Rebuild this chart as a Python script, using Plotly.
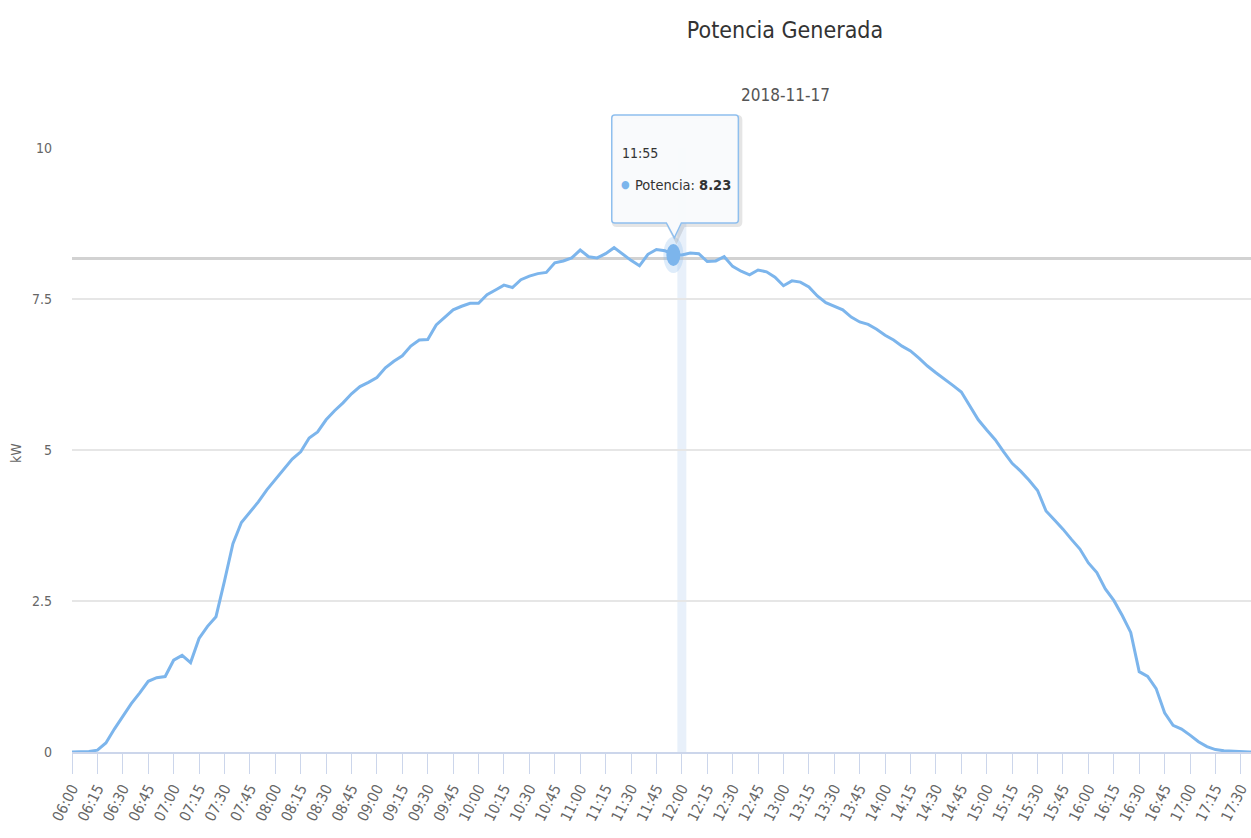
import pandas as pd
import plotly.graph_objects as go

# Generated power (kW), one reading every 5 minutes starting at 06:00
potencia = [
    0.00, 0.00, 0.01, 0.03, 0.15, 0.38, 0.60, 0.80, 0.98, 1.17, 1.23, 1.25,   # 06:00-06:55
    1.52, 1.60, 1.48, 1.88, 2.08, 2.24, 2.83, 3.45, 3.80, 3.97, 4.14, 4.34,   # 07:00-07:55
    4.51, 4.68, 4.85, 4.97, 5.20, 5.30, 5.50, 5.65, 5.78, 5.93, 6.05, 6.12,   # 08:00-08:55
    6.20, 6.36, 6.47, 6.56, 6.72, 6.82, 6.83, 7.07, 7.20, 7.32, 7.38, 7.43,   # 09:00-09:55
    7.43, 7.57, 7.65, 7.73, 7.69, 7.82, 7.88, 7.92, 7.94, 8.10, 8.13, 8.18,   # 10:00-10:55
    8.31, 8.20, 8.18, 8.25, 8.35, 8.24, 8.14, 8.05, 8.24, 8.32, 8.30, 8.23,   # 11:00-11:55
    8.23, 8.26, 8.25, 8.12, 8.13, 8.20, 8.04, 7.96, 7.90, 7.98, 7.95, 7.86,   # 12:00-12:55
    7.72, 7.80, 7.78, 7.70, 7.55, 7.44, 7.38, 7.32, 7.20, 7.12, 7.08, 7.00,   # 13:00-13:55
    6.90, 6.82, 6.72, 6.64, 6.52, 6.39, 6.28, 6.18, 6.07, 5.96, 5.72, 5.50,   # 14:00-14:55
    5.33, 5.17, 4.97, 4.78, 4.65, 4.50, 4.33, 3.99, 3.84, 3.69, 3.52, 3.36,   # 15:00-15:55
    3.13, 2.97, 2.70, 2.51, 2.26, 1.98, 1.33, 1.25, 1.05, 0.65, 0.44, 0.38,   # 16:00-16:55
    0.28, 0.17, 0.09, 0.04, 0.02, 0.01, 0.00, 0.00, 0.00,                     # 17:00-17:40
]
fecha = "2018-11-17"
horas = pd.date_range(f"{fecha} 06:00", periods=len(potencia), freq="5min")

tick_labels = [
    "06:00", "06:15", "06:30", "06:45", "07:00", "07:15", "07:30", "07:45",
    "08:00", "08:15", "08:30", "08:45", "09:00", "09:15", "09:30", "09:45",
    "10:00", "10:15", "10:30", "10:45", "11:00", "11:15", "11:30", "11:45",
    "12:00", "12:15", "12:30", "12:45", "13:00", "13:15", "13:30", "13:45",
    "14:00", "14:15", "14:30", "14:45", "15:00", "15:15", "15:30", "15:45",
    "16:00", "16:15", "16:30", "16:45", "17:00", "17:15", "17:30",
]
tick_times = [pd.Timestamp(f"{fecha} {t}") for t in tick_labels]

y_ticks = [0, 2.5, 5, 7.5, 10]
y_labels = ["0", "2.5", "5", "7.5", "10"]
y_max = 10

hover_label = "11:55"
hover_time = pd.Timestamp(f"{fecha} {hover_label}")
hover_value = potencia[list(horas).index(hover_time)]
crosshair_y = 8.17

FONT = "Liberation Sans Narrow, DejaVu Sans Condensed, Arial Narrow, Liberation Sans, sans-serif"
LINE = "#7cb5ec"

fig = go.Figure()
fig.add_trace(go.Scatter(
    x=horas, y=potencia, mode="lines", name="Potencia",
    line=dict(color=LINE, width=3), hoverinfo="skip", showlegend=False,
))

shapes = [
    # vertical crosshair band
    dict(type="rect", xref="x", yref="paper", xsizemode="pixel", xanchor=hover_time,
         x0=4, x1=13, y0=0, y1=1, fillcolor="rgba(204,222,245,0.45)",
         line=dict(width=0), layer="below"),
    # horizontal crosshair
    dict(type="line", xref="paper", yref="y", x0=0, x1=1, y0=crosshair_y, y1=crosshair_y,
         line=dict(color="#d2d2d2", width=3), layer="below"),
    # hover halo and marker
    dict(type="circle", xref="x", yref="y", xsizemode="pixel", ysizemode="pixel",
         xanchor=hover_time, yanchor=hover_value, x0=-10, x1=10, y0=-18, y1=18,
         fillcolor="rgba(124,181,236,0.25)", line=dict(width=0), layer="above"),
    dict(type="circle", xref="x", yref="y", xsizemode="pixel", ysizemode="pixel",
         xanchor=hover_time, yanchor=hover_value, x0=-7, x1=7, y0=-11, y1=11,
         fillcolor=LINE, line=dict(width=0), layer="above"),
]

# tooltip callout, in pixels around the hovered point (may rise above the plot area)
callout = ("M -58.6,140 L 62,140 Q 65,140 65,137 L 65,35 Q 65,32 62,32 "
           "L 8,32 L 1,17 L -7,32 L -58.6,32 Q -61.6,32 -61.6,35 "
           "L -61.6,137 Q -61.6,140 -58.6,140 Z")
shadow = ("M -56.6,138 L 64,138 Q 67,138 67,135 L 67,33 Q 67,30 64,30 "
          "L 10,30 L 3,15 L -5,30 L -56.6,30 Q -59.6,30 -59.6,33 "
          "L -59.6,135 Q -59.6,138 -56.6,138 Z")
for path, fill, stroke, w in [
    (shadow, "rgba(0,0,0,0)", "rgba(0,0,0,0.10)", 4),
    (callout, "rgba(249,250,252,0.96)", "#8fbfee", 1.5),
]:
    shapes.append(dict(type="path", xref="x", yref="paper", xsizemode="pixel",
                       ysizemode="pixel", xanchor=hover_time, yanchor=hover_value / y_max,
                       path=path, fillcolor=fill, line=dict(color=stroke, width=w),
                       layer="above"))

annotations = [
    dict(text=fecha, xref="paper", yref="paper", x=(785 - 72) / 1179, y=1 + (148 - 95) / 604,
         xanchor="center", yanchor="middle", showarrow=False,
         font=dict(family=FONT, size=17, color="#555555")),
    dict(text="kW", xref="paper", yref="paper", x=(16 - 72) / 1179, y=0.495,
         xanchor="center", yanchor="middle", showarrow=False, textangle=-90,
         font=dict(family=FONT, size=14, color="#666666")),
    dict(text=hover_label, xref="x", yref="y", x=hover_time, y=hover_value,
         xshift=-53, yshift=102, xanchor="left", yanchor="middle", showarrow=False,
         font=dict(family=FONT, size=14, color="#333333")),
    dict(text="●", xref="x", yref="y", x=hover_time, y=hover_value,
         xshift=-48, yshift=70, xanchor="center", yanchor="middle", showarrow=False,
         font=dict(family=FONT, size=11, color=LINE)),
    dict(text=f"Potencia: <b>{hover_value:.2f}</b>", xref="x", yref="y",
         x=hover_time, y=hover_value, xshift=-40, yshift=70, xanchor="left",
         yanchor="middle", showarrow=False,
         font=dict(family=FONT, size=14.5, color="#333333")),
]

x_end = horas[0] + pd.Timedelta(minutes=5 * 139.2)

fig.update_layout(
    width=1251, height=838,
    margin=dict(l=72, r=0, t=148, b=86),
    paper_bgcolor="white", plot_bgcolor="white",
    font=dict(family=FONT, color="#666666"),
    title=dict(text="Potencia Generada", xref="container", yref="container",
               x=785 / 1251, y=1 - 30 / 838, xanchor="center", yanchor="middle",
               font=dict(family=FONT, size=23, color="#333333")),
    xaxis=dict(
        type="date", range=[horas[0], x_end],
        tickmode="array", tickvals=tick_times, ticktext=tick_labels,
        tickangle=-63, tickfont=dict(family=FONT, size=15, color="#666666"),
        ticklabeloverflow="allow",
        ticks="outside", ticklen=20, tickwidth=1, tickcolor="#ccd6eb",
        showline=True, linecolor="#ccd6eb", linewidth=2,
        showgrid=False, zeroline=False,
    ),
    yaxis=dict(
        range=[0, y_max], tickmode="array", tickvals=y_ticks, ticktext=y_labels,
        tickfont=dict(family=FONT, size=14, color="#666666"),
        ticks="", ticklabelstandoff=19,
        showgrid=True, gridcolor="#e6e6e6", gridwidth=2,
        zeroline=False, showline=False,
    ),
    shapes=shapes,
    annotations=annotations,
    showlegend=False,
)

fig.write_html("out.html")
